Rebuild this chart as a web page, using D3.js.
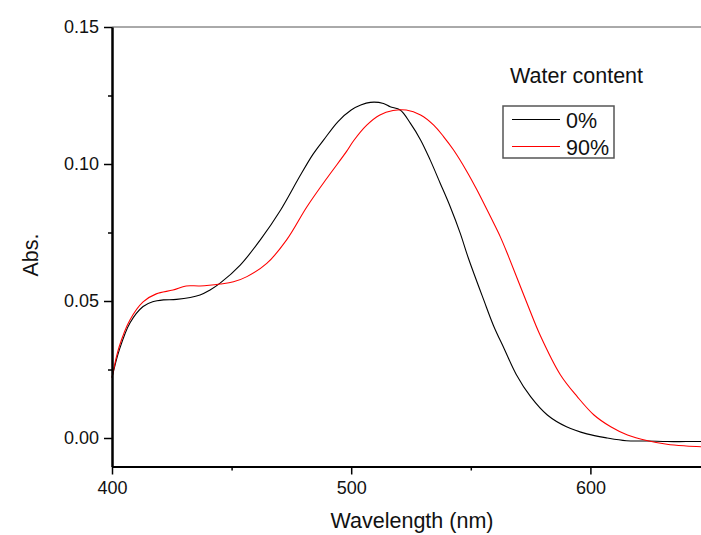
<!DOCTYPE html>
<html>
<head>
<meta charset="utf-8">
<script src="https://cdn.jsdelivr.net/npm/d3@7"></script>
<style>
  body { margin: 0; background: #fff; }
  svg { display: block; font-family: "Liberation Sans", Arial, sans-serif; }
</style>
</head>
<body>
<svg id="chart" width="701" height="535"></svg>
<script>
// wavelength (nm) / absorbance
const wl_0 = [400, 403, 407.5, 413, 417, 421.5, 427, 436.8, 441, 445.2, 453.6, 462, 470.5, 478.5, 484, 488.5, 494.5, 500, 504, 508, 513.5, 516.3, 520.5, 524.7, 529, 533, 537.2, 541.4, 545.6, 549, 555.4, 559.5, 564, 569, 575, 582, 590, 598.5, 607, 615, 624, 632, 640, 650]
const abs_0 = [0.022, 0.032, 0.042, 0.048, 0.0497, 0.0504, 0.0506, 0.0522, 0.054, 0.0565, 0.0631, 0.0723, 0.0832, 0.0955, 0.1035, 0.1088, 0.1155, 0.1197, 0.1215, 0.1225, 0.1221, 0.1209, 0.1197, 0.1149, 0.1088, 0.1015, 0.093, 0.0844, 0.0747, 0.0656, 0.0504, 0.041, 0.0325, 0.0232, 0.0151, 0.0084, 0.0041, 0.0015, 0.0, -0.001, -0.0011, -0.0013, -0.0013, -0.0013]

const wl_90 = [400, 403, 407.5, 413, 418.5, 425.5, 431, 436.8, 445.2, 450.8, 456.4, 464.7, 473, 481.5, 490, 498, 501, 506.5, 512, 517.5, 523, 529, 534.5, 538.6, 542.8, 548.4, 552.6, 558.2, 562.3, 565.8, 573.5, 579, 587.5, 594.5, 601.5, 608.5, 615.5, 624, 632, 640, 650]
const abs_90 = [0.022, 0.0333, 0.0431, 0.0497, 0.0526, 0.054, 0.0555, 0.0555, 0.0562, 0.057, 0.0589, 0.0637, 0.0723, 0.0844, 0.095, 0.1045, 0.1085, 0.1142, 0.1179, 0.1195, 0.1197, 0.1179, 0.1142, 0.11, 0.1051, 0.0972, 0.0905, 0.0808, 0.0735, 0.0662, 0.0492, 0.0375, 0.023, 0.0151, 0.0084, 0.0041, 0.0011, -0.001, -0.0023, -0.0029, -0.0033]

const series_names = ['0%', '90%']
const series_colors = ['#000000', '#ff0000']
const x_ticks = [400, 500, 600]
const x_minor = [450, 550, 650]
const y_ticks = [0.00, 0.05, 0.10, 0.15]
const y_minor = [0.025, 0.075, 0.125]

const margin = { top: 27, left: 112 }
const plot_bottom = 466.5,
      plot_right = 710

const svg = d3.select('#chart')

const x = d3.scaleLinear().domain([400, 650]).range([margin.left, plot_right])
const y = d3.scaleLinear().domain([-0.0104, 0.15]).range([plot_bottom, margin.top])

// top frame line (thin grey)
svg.append('line')
   .attr('x1', margin.left).attr('x2', plot_right)
   .attr('y1', margin.top).attr('y2', margin.top)
   .attr('stroke', '#555').attr('stroke-width', 1)

// curves
const series = [
    { name: series_names[0], wl: wl_0, abs: abs_0, color: series_colors[0] },
    { name: series_names[1], wl: wl_90, abs: abs_90, color: series_colors[1] },
]
const line = d3.line()
               .x(d => x(d[0]))
               .y(d => y(d[1]))
               .curve(d3.curveCatmullRom.alpha(0.5))
series.forEach(s => {
    svg.append('path')
       .datum(d3.zip(s.wl, s.abs))
       .attr('d', line)
       .attr('fill', 'none')
       .attr('stroke', s.color)
       .attr('stroke-width', 1.1)
})

// axes
function styleAxis(g) {
    g.select('.domain').attr('stroke', '#000').attr('stroke-width', 2)
    g.selectAll('.tick line').attr('stroke', '#000').attr('stroke-width', 1.5)
    g.selectAll('.tick text').attr('fill', '#111').attr('font-size', 18)
       .attr('font-family', '"Liberation Sans", Arial, sans-serif')
}

svg.append('g')
   .attr('transform', `translate(0,${plot_bottom})`)
   .call(d3.axisBottom(x).tickValues(x_ticks).tickSize(8).tickPadding(7).tickSizeOuter(0))
   .call(styleAxis)
svg.append('g')
   .attr('transform', `translate(0,${plot_bottom})`)
   .call(d3.axisBottom(x).tickValues(x_minor).tickSize(4).tickFormat('').tickSizeOuter(0))
   .call(styleAxis)

svg.append('g')
   .attr('transform', `translate(${margin.left},0)`)
   .call(d3.axisLeft(y).tickValues(y_ticks).tickSize(8).tickPadding(5).tickSizeOuter(0).tickFormat(d3.format('.2f')))
   .call(styleAxis)
svg.append('g')
   .attr('transform', `translate(${margin.left},0)`)
   .call(d3.axisLeft(y).tickValues(y_minor).tickSize(4).tickFormat('').tickSizeOuter(0))
   .call(styleAxis)

// axis titles
svg.append('text')
   .attr('x', 412).attr('y', 528)
   .attr('text-anchor', 'middle')
   .attr('font-size', 21.5)
   .attr('fill', '#111')
   .text('Wavelength (nm)')
svg.append('text')
   .attr('transform', 'translate(38,255) rotate(-90)')
   .attr('text-anchor', 'middle')
   .attr('font-size', 21.5)
   .attr('fill', '#111')
   .text('Abs.')

// legend
svg.append('text')
   .attr('x', 510).attr('y', 82.5)
   .attr('font-size', 21.5)
   .attr('fill', '#111')
   .text('Water content')
let legend = svg.append('g').attr('class', 'legend')
legend.append('rect')
      .attr('x', 503).attr('y', 106)
      .attr('width', 111).attr('height', 52)
      .attr('fill', 'white')
      .attr('stroke', '#555').attr('stroke-width', 1.5)
let legend_item = legend.selectAll('.legend-item')
                        .data(series)
                        .join('g')
                        .attr('transform', (d, i) => `translate(0,${119.5 + i * 27})`)
legend_item.append('line')
           .attr('x1', 512).attr('x2', 560)
           .attr('y1', 0).attr('y2', 0)
           .attr('stroke', d => d.color)
           .attr('stroke-width', 1.1)
legend_item.append('text')
           .attr('x', 566).attr('y', 8)
           .attr('font-size', 21.5)
           .attr('fill', '#111')
           .text(d => d.name)
</script>
</body>
</html>
